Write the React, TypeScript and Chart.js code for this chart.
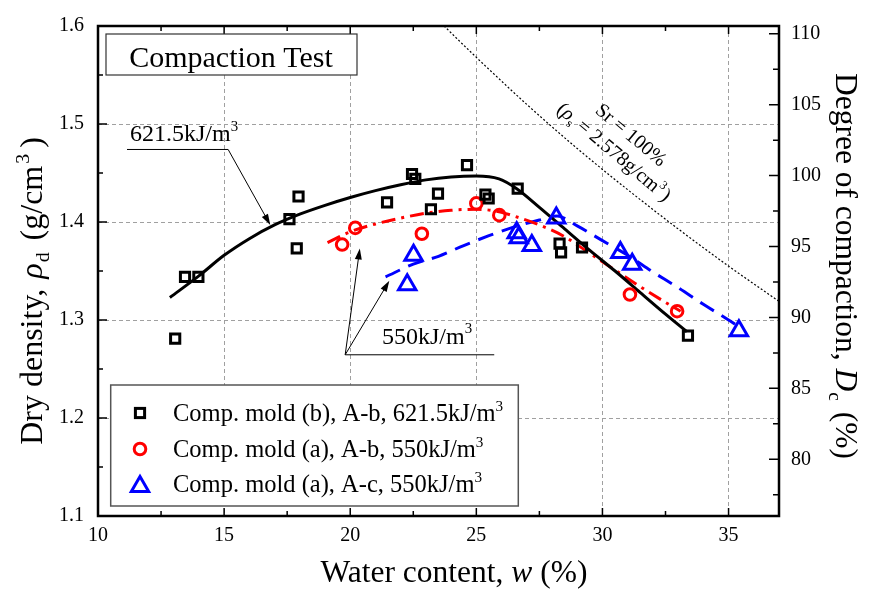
import React, { useEffect, useRef } from "react";
import { Chart, registerables } from "chart.js";
Chart.register(...registerables);

const FONT = '"Liberation Serif", "Times New Roman", serif';

// ---- data ----
const moldB_w = [13.06, 13.45, 13.98, 17.59, 17.88, 17.95, 21.46, 22.45, 22.58, 23.2, 23.48, 24.63, 25.36, 25.49, 26.64, 28.3, 28.36, 29.19, 33.39];
const moldB_rho = [1.281, 1.344, 1.344, 1.403, 1.373, 1.426, 1.420, 1.449, 1.444, 1.413, 1.429, 1.458, 1.428, 1.424, 1.434, 1.378, 1.369, 1.374, 1.284];

const moldAb_w = [19.68, 20.2, 22.84, 25.0, 25.91, 31.09, 32.96];
const moldAb_rho = [1.377, 1.394, 1.388, 1.419, 1.407, 1.326, 1.309];

const moldAc_w = [22.26, 22.51, 26.6, 26.68, 27.2, 28.17, 30.71, 31.18, 35.41];
const moldAc_rho = [1.336, 1.366, 1.389, 1.384, 1.376, 1.404, 1.369, 1.357, 1.289];

const fitB_w = [12.85, 14, 15, 16, 17, 18, 19, 20, 21, 22, 23, 24, 25, 25.9, 26.6, 27.5, 28.5, 29.5, 30.5, 31.5, 32.5, 33.35];
const fitB_rho = [1.323, 1.345, 1.366, 1.383, 1.397, 1.408, 1.417, 1.425, 1.432, 1.438, 1.443, 1.446, 1.447, 1.444, 1.434, 1.415, 1.393, 1.371, 1.350, 1.328, 1.306, 1.288];

const fitAb_w = [19.1, 20, 21, 22, 23, 24, 25, 25.8, 26.5, 27.5, 28.5, 29.5, 30.5, 31.5, 32.5, 33.1];
const fitAb_rho = [1.379, 1.390, 1.398, 1.404, 1.409, 1.412, 1.413, 1.411, 1.406, 1.397, 1.385, 1.368, 1.351, 1.334, 1.318, 1.309];

const fitAc_w = [21.4, 22.5, 23.5, 24.5, 25.5, 26.5, 27.5, 28.2, 29, 30, 31, 32, 33, 34, 35, 35.3];
const fitAc_rho = [1.344, 1.357, 1.365, 1.376, 1.386, 1.395, 1.402, 1.406, 1.396, 1.381, 1.366, 1.349, 1.333, 1.316, 1.300, 1.295];

const sr_w = [23.72, 25, 27, 29, 31, 33, 35, 37];
const sr_rho = [1.600, 1.568, 1.520, 1.475, 1.433, 1.393, 1.355, 1.319];

const xTicks = [10, 15, 20, 25, 30, 35];
const yTicks = [1.1, 1.2, 1.3, 1.4, 1.5, 1.6];
const y2Ticks = [80, 85, 90, 95, 100, 105, 110];
const xRange = [10, 37];
const yRange = [1.1, 1.6];
const y2Range = [76.0, 110.55];

const legendLabels = [
  "Comp. mold (b), A-b, 621.5kJ/m",
  "Comp. mold (a), A-b, 550kJ/m",
  "Comp. mold (a), A-c, 550kJ/m",
];

// target plot-area box on the page
const AREA = { left: 98, right: 779, top: 16, bottom: 516 };

const pts = (xs: number[], ys: number[]) => xs.map((x, i) => ({ x, y: ys[i] }));

type Seg = { t: string; i?: boolean; sub?: boolean; sup?: boolean; gap?: number };

function segFont(s: Seg, size: number) {
  const sz = s.sub || s.sup ? size * 0.62 : size;
  return `${s.i ? "italic " : ""}${sz}px ${FONT}`;
}
function richWidth(ctx: CanvasRenderingContext2D, segs: Seg[], size: number) {
  let w = 0;
  for (const s of segs) {
    ctx.font = segFont(s, size);
    w += ctx.measureText(s.t).width + (s.gap || 0);
  }
  return w;
}
function drawRich(ctx: CanvasRenderingContext2D, segs: Seg[], x: number, y: number, size: number, align = "left") {
  let cx = align === "center" ? x - richWidth(ctx, segs, size) / 2 : x;
  ctx.textBaseline = "alphabetic";
  ctx.textAlign = "left";
  for (const s of segs) {
    ctx.font = segFont(s, size);
    const dy = s.sub ? size * 0.22 : s.sup ? -size * 0.42 : 0;
    ctx.fillText(s.t, cx, y + dy);
    cx += ctx.measureText(s.t).width + (s.gap || 0);
  }
}
function arrow(ctx: CanvasRenderingContext2D, x1: number, y1: number, x2: number, y2: number) {
  const a = Math.atan2(y2 - y1, x2 - x1);
  const L = 11, W = 3.5;
  ctx.beginPath();
  ctx.moveTo(x1, y1);
  ctx.lineTo(x2 - Math.cos(a) * L * 0.8, y2 - Math.sin(a) * L * 0.8);
  ctx.stroke();
  ctx.beginPath();
  ctx.moveTo(x2, y2);
  ctx.lineTo(x2 - Math.cos(a) * L - Math.sin(a) * W, y2 - Math.sin(a) * L + Math.cos(a) * W);
  ctx.lineTo(x2 - Math.cos(a) * L + Math.sin(a) * W, y2 - Math.sin(a) * L - Math.cos(a) * W);
  ctx.closePath();
  ctx.fill();
}

const decor = {
  id: "decor",
  afterDraw(chart: any) {
    const ctx: CanvasRenderingContext2D = chart.ctx;
    const ca = chart.chartArea;
    const sx = chart.scales.x, sy = chart.scales.y, sy2 = chart.scales.y2;
    const px = (v: number) => sx.getPixelForValue(v);
    const py = (v: number) => sy.getPixelForValue(v);
    ctx.save();
    ctx.strokeStyle = "#000";
    ctx.fillStyle = "#000";

    // frame
    ctx.lineWidth = 2.5;
    ctx.strokeRect(ca.left, ca.top, ca.right - ca.left, ca.bottom - ca.top);

    // inward ticks
    ctx.lineWidth = 1.5;
    ctx.beginPath();
    for (let v = xRange[0]; v <= xRange[1] + 1e-9; v += 2.5) {
      const major = Math.abs(v / 5 - Math.round(v / 5)) < 1e-6;
      const L = major ? 8 : 5;
      const x = px(v);
      ctx.moveTo(x, ca.bottom); ctx.lineTo(x, ca.bottom - L);
      ctx.moveTo(x, ca.top); ctx.lineTo(x, ca.top + L);
    }
    for (let v = yRange[0]; v <= yRange[1] + 1e-9; v += 0.05) {
      const major = Math.abs(v * 10 - Math.round(v * 10)) < 1e-6;
      const L = major ? 9 : 5;
      const y = py(v);
      ctx.moveTo(ca.left, y); ctx.lineTo(ca.left + L, y);
    }
    for (let v = 77.5; v <= y2Range[1]; v += 2.5) {
      const major = Math.abs(v / 5 - Math.round(v / 5)) < 1e-6;
      const L = major ? 10 : 6;
      const y = sy2.getPixelForValue(v);
      ctx.moveTo(ca.right, y); ctx.lineTo(ca.right - L, y);
    }
    ctx.stroke();

    // title box
    ctx.lineWidth = 1.2;
    ctx.strokeStyle = "#333";
    ctx.fillStyle = "#fff";
    ctx.fillRect(ca.left + 8, ca.top + 8, 251, 41);
    ctx.strokeRect(ca.left + 8, ca.top + 8, 251, 41);
    ctx.fillStyle = "#000";
    ctx.font = `30px ${FONT}`;
    ctx.textAlign = "center";
    ctx.textBaseline = "alphabetic";
    ctx.fillText("Compaction Test", ca.left + 133, ca.top + 41);

    // 621.5 label
    ctx.strokeStyle = "#000";
    ctx.lineWidth = 1;
    drawRich(ctx, [{ t: "621.5kJ/m" }, { t: "3", sup: true }], px(11.27), py(1.483), 24);
    ctx.beginPath();
    ctx.moveTo(px(11.15), py(1.474)); ctx.lineTo(px(15.16), py(1.474));
    ctx.stroke();
    arrow(ctx, px(15.16), py(1.474), px(16.83), py(1.397));

    // 550 label
    drawRich(ctx, [{ t: "550kJ/m" }, { t: "3", sup: true }], px(21.26), py(1.276), 24);
    ctx.beginPath();
    ctx.moveTo(px(19.8), py(1.2645)); ctx.lineTo(px(25.71), py(1.2645));
    ctx.stroke();
    arrow(ctx, px(19.8), py(1.2645), px(20.38), py(1.373));
    arrow(ctx, px(19.8), py(1.2645), px(21.55), py(1.340));

    // Sr text
    const ang = (40 * Math.PI) / 180;
    ctx.save();
    ctx.translate(631, 135);
    ctx.rotate(ang);
    drawRich(ctx, [{ t: "Sr = 100%" }], 0, 6, 20, "center");
    ctx.restore();
    ctx.save();
    ctx.translate(614, 152);
    ctx.rotate(ang);
    drawRich(ctx, [{ t: "(" }, { t: "ρ", i: true }, { t: "s", sub: true }, { t: " = 2.578g/cm" }, { t: "3", sup: true, gap: 2 }, { t: ")" }], 0, 6, 20, "center");
    ctx.restore();

    // legend
    const lx = 110.7, ly = 385, lw = 407.6, lh = 121;
    ctx.fillStyle = "#fff";
    ctx.fillRect(lx, ly, lw, lh);
    ctx.strokeStyle = "#555";
    ctx.lineWidth = 1.5;
    ctx.strokeRect(lx, ly, lw, lh);
    const rows = [413, 449, 484];
    const mx = 140;
    ctx.lineWidth = 3;
    ctx.strokeStyle = "#000";
    ctx.strokeRect(mx - 4.6, rows[0] - 4.6, 9.2, 9.2);
    ctx.strokeStyle = "#ff0000";
    ctx.beginPath();
    ctx.arc(mx, rows[1], 5.8, 0, Math.PI * 2);
    ctx.stroke();
    ctx.strokeStyle = "#0000ff";
    ctx.beginPath();
    const r = 10, ty = rows[2] + 2.5;
    ctx.moveTo(mx, ty - r);
    ctx.lineTo(mx + r * Math.sin((2 * Math.PI) / 3), ty - r * Math.cos((2 * Math.PI) / 3));
    ctx.lineTo(mx + r * Math.sin((4 * Math.PI) / 3), ty - r * Math.cos((4 * Math.PI) / 3));
    ctx.closePath();
    ctx.stroke();
    ctx.fillStyle = "#000";
    legendLabels.forEach((lab, i) => {
      drawRich(ctx, [{ t: lab }, { t: "3", sup: true }], 173, rows[i] + 8, 24.5);
    });

    // axis titles
    drawRich(ctx, [{ t: "Water content, " }, { t: "w", i: true }, { t: " (%)" }], 454, 582, 31.5, "center");
    ctx.save();
    ctx.translate(42, 291);
    ctx.rotate(-Math.PI / 2);
    drawRich(ctx, [{ t: "Dry density, ", gap: 2 }, { t: "ρ", i: true, gap: 1 }, { t: "d", sub: true, gap: 4 }, { t: " (g/cm", gap: 2 }, { t: "3", sup: true, gap: 6 }, { t: ")" }], 0, 0, 32, "center");
    ctx.restore();
    ctx.save();
    ctx.translate(836, 266);
    ctx.rotate(Math.PI / 2);
    drawRich(ctx, [{ t: "Degree of compaction, " }, { t: "D", i: true, gap: 1 }, { t: "c", sub: true, gap: 3 }, { t: " (%)" }], 0, 0, 31.5, "center");
    ctx.restore();

    ctx.restore();
  },
};

export default function App() {
  const ref = useRef<HTMLCanvasElement | null>(null);
  useEffect(() => {
    if (!ref.current) return;
    Chart.defaults.font.family = FONT;
    const lay = { padTop: AREA.top, xHeight: 601 - AREA.bottom, yWidth: AREA.left, y2Width: 877 - AREA.right };
    const gridCommon = { color: "#a0a0a0", lineWidth: 1, drawTicks: false };
    const fitLine = (label: string, xs: number[], ys: number[], color: string, dash: number[]) => ({
      label,
      data: pts(xs, ys),
      showLine: true,
      pointRadius: 0,
      borderColor: color,
      borderWidth: 3,
      borderDash: dash,
      cubicInterpolationMode: "monotone",
    });
    const chart = new Chart(ref.current, {
      type: "scatter",
      data: {
        datasets: [
          {
            label: legendLabels[0],
            data: pts(moldB_w, moldB_rho),
            pointStyle: "rect",
            pointRadius: 6.5,
            borderColor: "#000",
            backgroundColor: "rgba(0,0,0,0)",
            pointBorderWidth: 3,
            showLine: false,
          },
          {
            label: legendLabels[1],
            data: pts(moldAb_w, moldAb_rho),
            pointStyle: "circle",
            pointRadius: 5.8,
            borderColor: "#ff0000",
            backgroundColor: "rgba(0,0,0,0)",
            pointBorderWidth: 3,
            showLine: false,
          },
          {
            label: legendLabels[2],
            data: pts(moldAc_w, moldAc_rho),
            pointStyle: "triangle",
            pointRadius: 10,
            borderColor: "#0000ff",
            backgroundColor: "rgba(0,0,0,0)",
            pointBorderWidth: 3,
            showLine: false,
          },
          fitLine("fit B", fitB_w, fitB_rho, "#000", []),
          fitLine("fit Ab", fitAb_w, fitAb_rho, "#ff0000", [14, 6, 3, 6]),
          fitLine("fit Ac", fitAc_w, fitAc_rho, "#0000ff", [16, 9]),
          {
            label: "Sr=100%",
            data: pts(sr_w, sr_rho),
            showLine: true,
            pointRadius: 0,
            borderColor: "#000",
            borderWidth: 1.2,
            borderDash: [2, 2],
            cubicInterpolationMode: "monotone",
          },
        ],
      },
      options: {
        responsive: false,
        animation: false,
        devicePixelRatio: 1,
        layout: { padding: { top: AREA.top, left: 0, right: 0, bottom: 0 } },
        plugins: { legend: { display: false }, tooltip: { enabled: false }, title: { display: false } },
        scales: {
          x: {
            type: "linear",
            position: "bottom",
            min: xRange[0],
            max: xRange[1],
            afterBuildTicks: (s: any) => { s.ticks = xTicks.map((v) => ({ value: v })); },
            afterFit: (s: any) => { s.height = lay.xHeight; },
            ticks: { font: { size: 20, family: FONT }, color: "#000", padding: 8, maxRotation: 0, autoSkip: false, callback: (v: any) => String(v) },
            grid: gridCommon,
            border: { display: false, dash: [4, 3] },
          },
          y: {
            type: "linear",
            position: "left",
            min: yRange[0],
            max: yRange[1],
            afterBuildTicks: (s: any) => { s.ticks = yTicks.map((v) => ({ value: v })); },
            afterFit: (s: any) => { s.width = lay.yWidth; },
            ticks: { font: { size: 20, family: FONT }, color: "#000", padding: 14, autoSkip: false, callback: (v: any) => Number(v).toFixed(1) },
            grid: gridCommon,
            border: { display: false, dash: [4, 3] },
          },
          y2: {
            type: "linear",
            position: "right",
            min: y2Range[0],
            max: y2Range[1],
            afterBuildTicks: (s: any) => { s.ticks = y2Ticks.map((v) => ({ value: v })); },
            afterFit: (s: any) => { s.width = lay.y2Width; },
            ticks: { font: { size: 20, family: FONT }, color: "#000", padding: 12, autoSkip: false, callback: (v: any) => String(v) },
            grid: { display: false, drawTicks: false },
            border: { display: false },
          },
        },
      },
      plugins: [decor],
    } as any);
    // nudge the layout so the plot area lands exactly on the target box
    for (let k = 0; k < 3; k++) {
      const ca = chart.chartArea;
      const dT = AREA.top - ca.top, dB = ca.bottom - AREA.bottom, dL = AREA.left - ca.left, dR = ca.right - AREA.right;
      if (Math.abs(dT) < 0.5 && Math.abs(dB) < 0.5 && Math.abs(dL) < 0.5 && Math.abs(dR) < 0.5) break;
      lay.padTop += dT;
      lay.xHeight += dB;
      lay.yWidth += dL;
      lay.y2Width += dR;
      (chart.options as any).layout.padding.top = lay.padTop;
      chart.update();
    }
    return () => chart.destroy();
  }, []);
  return (
    <div style={{ position: "absolute", left: 0, top: 0, width: 877, height: 601, background: "#fff" }}>
      <canvas ref={ref} width={877} height={601} style={{ display: "block" }} />
    </div>
  );
}
